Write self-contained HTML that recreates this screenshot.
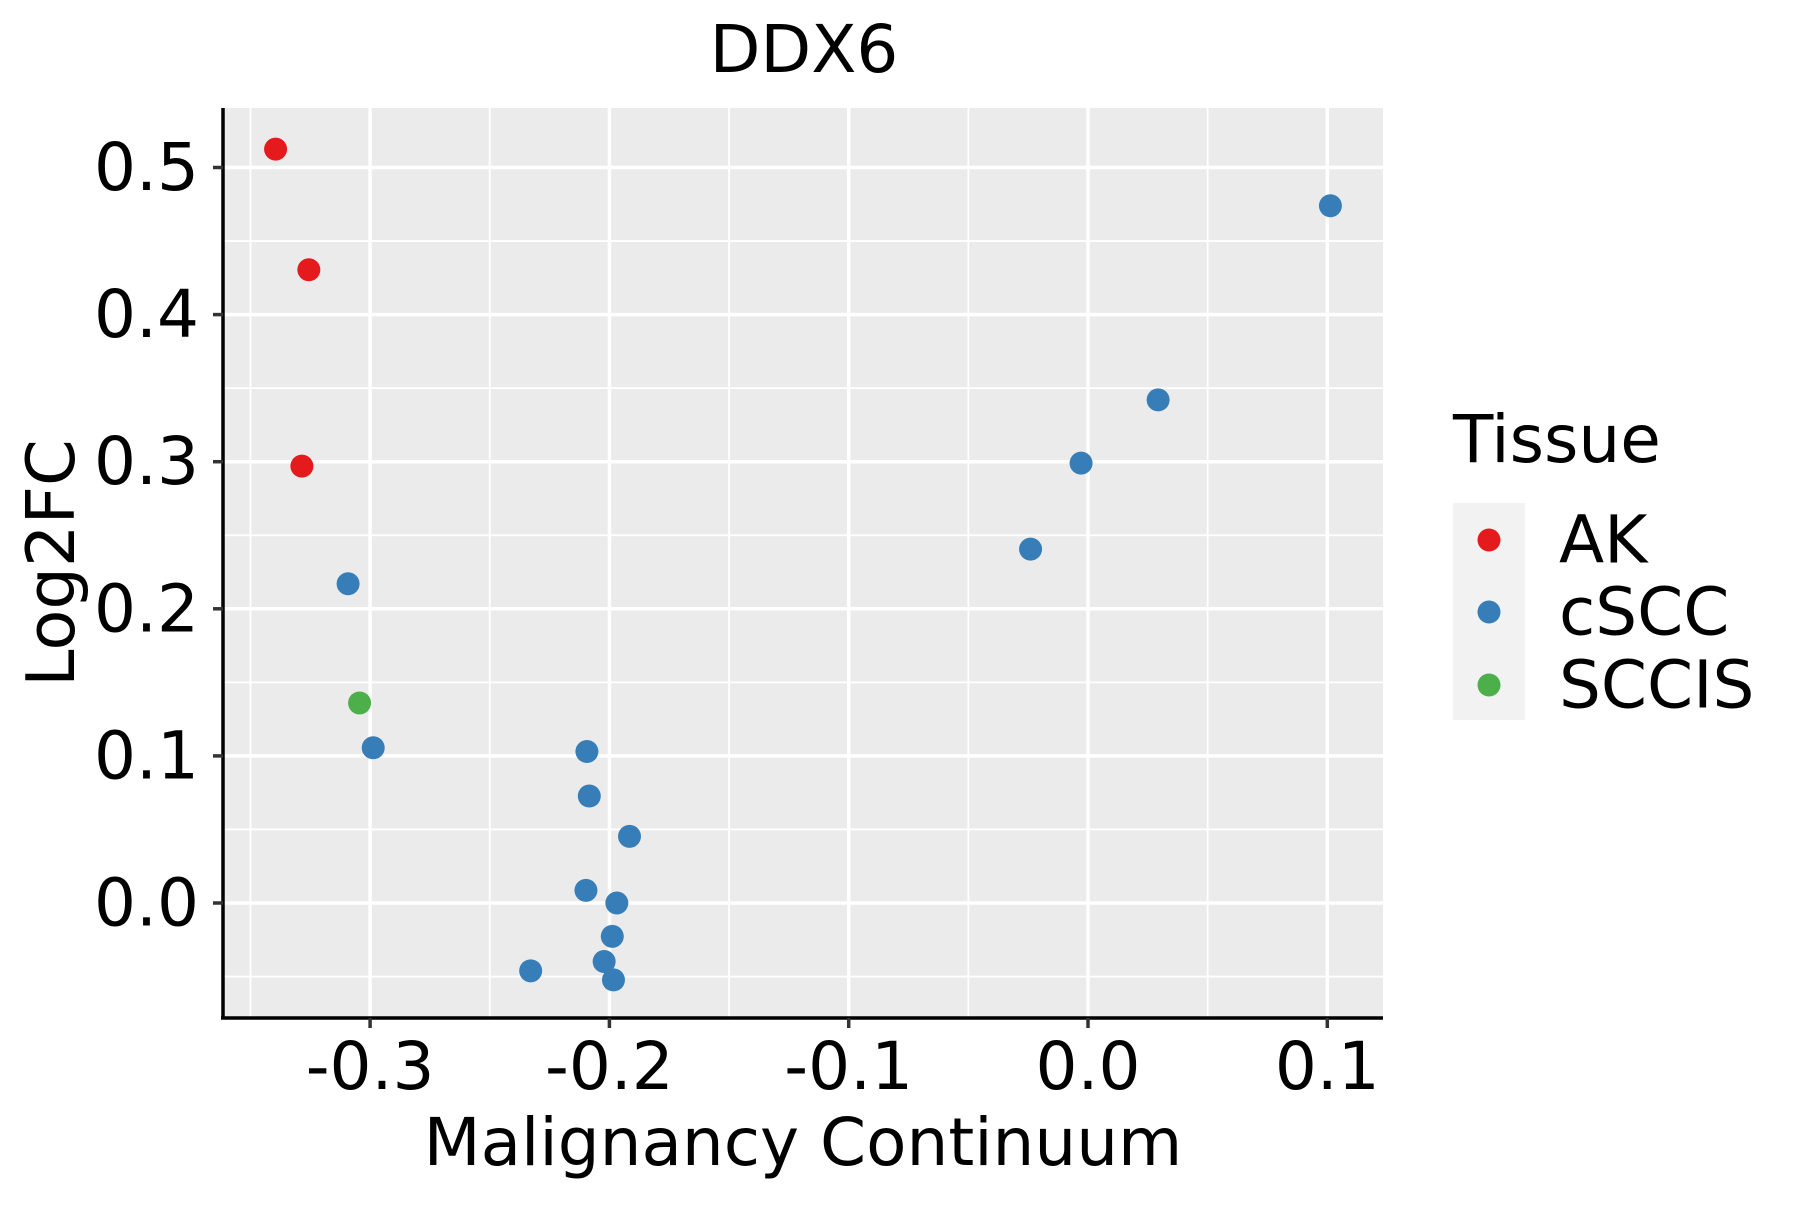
<!DOCTYPE html>
<html><head><meta charset="utf-8"><style>
html,body{margin:0;padding:0;background:#fff}
svg text{font-family:"DejaVu Sans","Liberation Sans",sans-serif;fill:#000}
</style></head><body>
<svg id="chart" width="1800" height="1200" viewBox="0 0 1800 1200" xmlns="http://www.w3.org/2000/svg">
<rect x="0" y="0" width="1800" height="1200" fill="#fff"/>
<rect x="223" y="108" width="1160" height="910" fill="#ebebeb"/>
<g id="grid"></g>
<g id="points"></g>
<line x1="223" y1="108" x2="223" y2="1019" stroke="#000" stroke-width="3.5"/>
<line x1="221" y1="1018" x2="1383" y2="1018" stroke="#000" stroke-width="3.5"/>
<g id="ticks"></g>
<text x="804" y="72" font-size="66" text-anchor="middle">DDX6</text>
<text x="803" y="1165" font-size="66" text-anchor="middle">Malignancy Continuum</text>
<text transform="translate(74,563) rotate(-90)" font-size="67" text-anchor="middle">Log2FC</text>
<g>
<text x="1453" y="462" font-size="66">Tissue</text>
<rect x="1453" y="503" width="72" height="217" fill="#f2f2f2"/>
<g><circle cx="1489" cy="540" r="11.5" fill="#e41a1c"/><text x="1559" y="540" font-size="66" dominant-baseline="central">AK</text></g>
<g><circle cx="1489" cy="612" r="11.5" fill="#377eb8"/><text x="1559" y="612" font-size="66" dominant-baseline="central">cSCC</text></g>
<g><circle cx="1489" cy="685" r="11.5" fill="#4daf4a"/><text x="1559" y="685" font-size="66" dominant-baseline="central">SCCIS</text></g>
</g>
</svg>
<script>
const xTicks = [-0.3, -0.2, -0.1, 0.0, 0.1];
const xTickLabels = ["-0.3", "-0.2", "-0.1", "0.0", "0.1"];
const yTicks = [0.0, 0.1, 0.2, 0.3, 0.4, 0.5];
const yTickLabels = ["0.0", "0.1", "0.2", "0.3", "0.4", "0.5"];
const tissue = ["AK","AK","AK","SCCIS","cSCC","cSCC","cSCC","cSCC","cSCC","cSCC","cSCC","cSCC","cSCC","cSCC","cSCC","cSCC","cSCC","cSCC","cSCC"];
const xValues = [-0.3395,-0.3256,-0.3285,-0.3044,0.1013,0.0293,-0.0029,-0.024,-0.3092,-0.2987,-0.2094,-0.2084,-0.1916,-0.2098,-0.1969,-0.1988,-0.2022,-0.2329,-0.1983];
const yValues = [0.5125,0.4305,0.297,0.136,0.474,0.342,0.299,0.2406,0.217,0.1055,0.103,0.0727,0.0453,0.0086,0.0,-0.0227,-0.0398,-0.0461,-0.0523];
const colors = {AK:"#e41a1c", cSCC:"#377eb8", SCCIS:"#4daf4a"};
const NS = "http://www.w3.org/2000/svg";
function xScale(v){ return 1088 + v * 2393; }
function yScale(v){ return 903 - v * 1471; }
const grid = document.getElementById('grid');
const ticks = document.getElementById('ticks');
function line(parent,x1,y1,x2,y2,stroke,w,name){
  const l = document.createElementNS(NS,'line');
  l.setAttribute('x1',x1);l.setAttribute('y1',y1);l.setAttribute('x2',x2);l.setAttribute('y2',y2);
  l.setAttribute('stroke',stroke);l.setAttribute('stroke-width',w);
  
  
  parent.appendChild(l);
}
for (let i = 0; i < xTicks.length; i++) {
  const xm = xScale(xTicks[i] - 0.05);
  line(grid, xm, 108, xm, 1018, "#fff", 1.8, "x-minor-gridline");
}
for (let i = 0; i < yTicks.length; i++) {
  const ym = yScale(yTicks[i] - 0.05);
  if (ym > 108 && ym < 1018) line(grid, 223, ym, 1383, ym, "#fff", 1.8, "y-minor-gridline");
}
xTicks.forEach((t,i)=>{
  const x = xScale(t);
  line(grid, x, 108, x, 1018, "#fff", 3.5, "x-major-gridline");
  line(ticks, x, 1018, x, 1028, "#333", 3.5, "x-tick");
  const tx = document.createElementNS(NS,'text');
  tx.setAttribute('x', x); tx.setAttribute('y', 1089);
  tx.setAttribute('font-size','66'); tx.setAttribute('text-anchor','middle');
  tx.textContent = xTickLabels[i];
  
  
  ticks.appendChild(tx);
});
yTicks.forEach((t,i)=>{
  const y = yScale(t);
  line(grid, 223, y, 1383, y, "#fff", 3.5, "y-major-gridline");
  line(ticks, 213, y, 223, y, "#333", 3.5, "y-tick");
  const tx = document.createElementNS(NS,'text');
  tx.setAttribute('x', 199); tx.setAttribute('y', y);
  tx.setAttribute('font-size','66'); tx.setAttribute('text-anchor','end');
  tx.setAttribute('dominant-baseline','central');
  tx.textContent = yTickLabels[i];
  
  
  ticks.appendChild(tx);
});
const pts = document.getElementById('points');
xValues.forEach((v,i)=>{
  const c = document.createElementNS(NS,'circle');
  c.setAttribute('cx', xScale(v)); c.setAttribute('cy', yScale(yValues[i]));
  c.setAttribute('r', 11.5); c.setAttribute('fill', colors[tissue[i]]);
  
  
  pts.appendChild(c);
});
</script>
</body></html>
